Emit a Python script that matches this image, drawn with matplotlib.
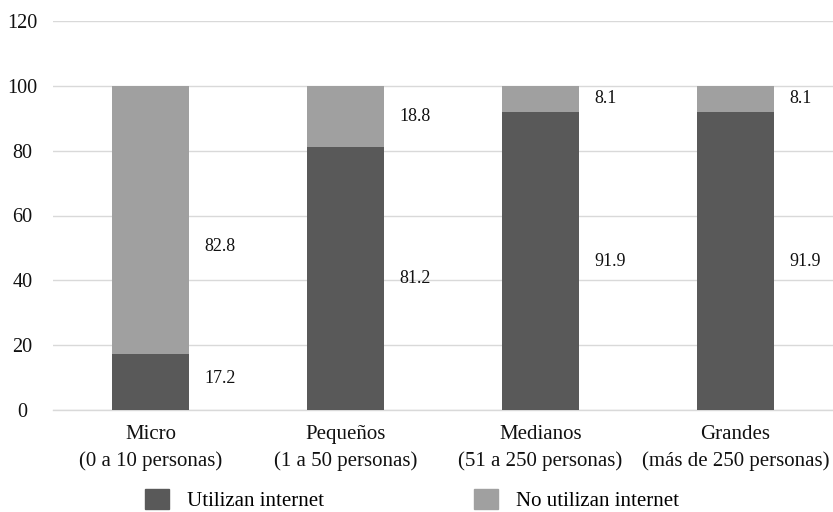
import matplotlib
matplotlib.use("Agg")
import matplotlib.pyplot as plt
from matplotlib.patches import Patch

categories = ["Micro\n(0 a 10 personas)", "Pequeños\n(1 a 50 personas)",
              "Medianos\n(51 a 250 personas)", "Grandes\n(más de 250 personas)"]
usan = [17.2, 81.2, 91.9, 91.9]
no_usan = [82.8, 18.8, 8.1, 8.1]
series_names = ["Utilizan internet", "No utilizan internet"]
yticks = [0, 20, 40, 60, 80, 100, 120]

dark = "#595959"
light = "#a0a0a0"
font = "Liberation Serif"
plt.rcParams["font.family"] = [font, "DejaVu Serif"]

fig = plt.figure(figsize=(8.33, 5.12), dpi=100)
ax = fig.add_axes([53 / 833, 1 - 410 / 512, 780 / 833, (410 - 21) / 512])

x = list(range(len(categories)))
width = 0.395
ax.bar(x, usan, width, color=dark, zorder=3)
ax.bar(x, no_usan, width, bottom=usan, color=light, zorder=3)

dx = width / 2 + 0.078
for i in x:
    y1 = usan[i] / 2
    y2 = usan[i] + no_usan[i] / 2
    if i == 0:
        y1 += 1.0
        y2 -= 8.3
    ax.text(i + dx, y1, f"{usan[i]:.1f}", ha="left", va="center", fontsize=13, color="#111111")
    ax.text(i + dx, y2, f"{no_usan[i]:.1f}", ha="left", va="center", fontsize=13, color="#111111")

ax.set_xlim(-0.5, len(categories) - 0.5)
ax.set_ylim(0, 120)
ax.set_yticks(yticks)
ax.set_xticks(x)
ax.set_xticklabels(categories, fontsize=15, linespacing=1.5)
ax.tick_params(axis="y", length=0, pad=22, labelsize=14.5, labelcolor="#111111")
for lbl in ax.get_yticklabels():
    lbl.set_horizontalalignment("center")
ax.tick_params(axis="x", length=0, pad=11, labelcolor="#111111")
ax.grid(axis="y", color="#d9d9d9", linewidth=1.0, zorder=0)
for s in ["top", "right", "left"]:
    ax.spines[s].set_visible(False)
ax.spines["bottom"].set_color("#d9d9d9")
ax.spines["bottom"].set_linewidth(1.0)

handles = [Patch(color=dark), Patch(color=light)]
fig.legend(handles, series_names, loc="center", bbox_to_anchor=(412 / 833, 1 - 500 / 512),
           ncol=2, frameon=False, fontsize=15, handlelength=1.15, handleheight=1.1,
           columnspacing=7.2, handletextpad=0.87, borderpad=0, borderaxespad=0)

fig.savefig("out.png", dpi=100)
